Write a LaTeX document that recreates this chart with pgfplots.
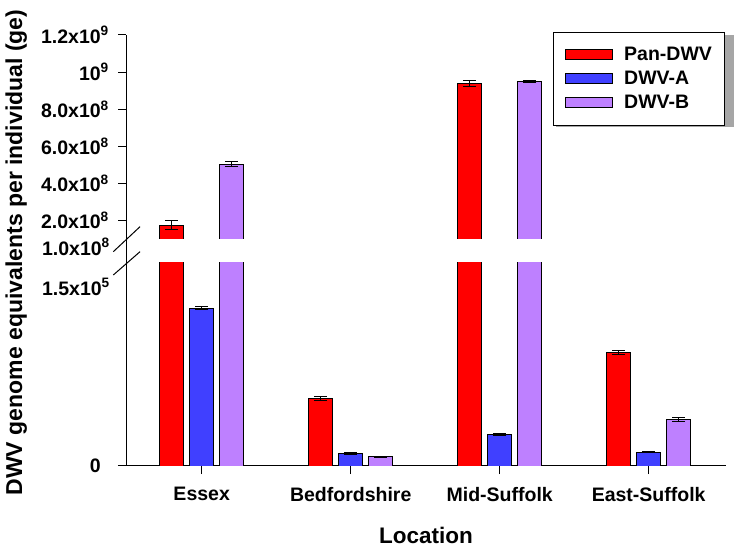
\documentclass[border=0pt]{standalone}
\usepackage{pgfplots}
\pgfplotsset{compat=1.18}
\usepackage{fontspec}
\setmainfont{Liberation Sans}
\definecolor{cRed}{RGB}{255,0,0}
\definecolor{cBlue}{RGB}{64,64,255}
\definecolor{cPurple}{RGB}{190,128,255}
\newcommand{\tf}{\fontsize{19.5}{22}\selectfont\bfseries}
\begin{document}
\begin{tikzpicture}
\path[use as bounding box] (0pt,0pt) rectangle (735pt,548pt);
\pgfplotsset{
  common/.style={scale only axis, width=600pt, xmin=-0.508, xmax=3.519,
    ybar, bar width=24pt,
    axis line style={line width=1pt},
    tick style={line width=1pt, black}, tick align=outside, major tick length=8pt,
    ticklabel style={font=\tf},
    yticklabel style={inner sep=0pt, xshift=-9pt},
    scaled y ticks=false,
    every axis plot/.append style={draw=black, line width=0.6pt},
    error bars/error bar style={line width=1pt, black},
    error bars/error mark options={rotate=90, mark size=6.5pt, line width=1pt, black},
  }
}
% lower segment
\begin{axis}[common, at={(126pt,82pt)}, anchor=south west, height=203pt,
  ymin=0, ymax=1.69e5,
  axis x line*=bottom, axis y line*=left,
  ytick={0}, yticklabels={0},
  yticklabel style={xshift=-8pt},
  xtick={0,1,2,3}, xticklabels={Essex,Bedfordshire,Mid-Suffolk,East-Suffolk},
  xticklabel style={yshift=-10pt},
  xlabel={Location},
  xlabel style={font=\fontsize{22.5}{25}\selectfont\bfseries, at={(axis description cs:0.5,0)}, anchor=base, yshift=-77pt},
  ylabel={DWV genome equivalents per individual (ge)},
  ylabel style={font=\fontsize{23}{25}\selectfont\bfseries, at={(axis description cs:-0.1733,1.0517)}, anchor=base},
]
\addplot[fill=cRed, bar shift=-30pt, error bars/.cd, y dir=both, y explicit]
  coordinates {(1,5.61e4) +- (0,1.4e3) (3,9.47e4) +- (0,1.6e3)};
\addplot[fill=cRed, bar shift=-30pt] coordinates {(0,2e5) (2,2e5)};
\addplot[fill=cBlue, bar shift=0pt, error bars/.cd, y dir=both, y explicit]
  coordinates {(0,1.315e5) +- (0,1.2e3) (1,1.05e4) +- (0,800) (2,2.63e4) +- (0,800) (3,1.16e4) +- (0,500)};
\addplot[fill=cPurple, bar shift=30pt, error bars/.cd, y dir=both, y explicit]
  coordinates {(1,7.7e3) +- (0,500) (3,3.9e4) +- (0,1.7e3)};
\addplot[fill=cPurple, bar shift=30pt] coordinates {(0,2e5) (2,2e5)};
\end{axis}
% legend shadow
\fill[gray!70] (556pt,421pt) rectangle (734pt,513pt);
% upper segment
\begin{axis}[common, at={(126pt,309pt)}, anchor=south west, height=204pt,
  ymin=1e8, ymax=1.2e9,
  axis x line=none, axis y line*=left,
  ytick={2e8,4e8,6e8,8e8,1e9,1.2e9},
  yticklabels={2.0x10\textsuperscript{8},4.0x10\textsuperscript{8},6.0x10\textsuperscript{8},8.0x10\textsuperscript{8},10\textsuperscript{9},1.2x10\textsuperscript{9}},
  legend style={at={(axis description cs:0.7117,1.0147)}, anchor=north west,
    draw=black, line width=0.8pt, fill=white,
    inner xsep=12pt, inner ysep=10.5pt, column sep=11pt, row sep=0pt,
    font=\tf, nodes={minimum height=24pt, inner sep=0pt, anchor=west}},
  legend image code/.code={\draw[#1, line width=0.8pt] (0pt,-5pt) rectangle (47pt,5pt);},
]
\addlegendimage{fill=cRed, draw=black}
\addlegendentry{Pan-DWV\hspace{16pt}}
\addlegendimage{fill=cBlue, draw=black}
\addlegendentry{DWV-A}
\addlegendimage{fill=cPurple, draw=black}
\addlegendentry{DWV-B}
\addplot[forget plot, fill=cRed, bar shift=-30pt, error bars/.cd, y dir=both, y explicit]
  coordinates {(0,1.75e8) +- (0,2.5e7) (2,9.39e8) +- (0,1.8e7)};
\addplot[forget plot, fill=cPurple, bar shift=30pt, error bars/.cd, y dir=both, y explicit]
  coordinates {(0,5.04e8) +- (0,1.3e7) (2,9.5e8) +- (0,4e6)};
\end{axis}
% axis break
\draw[line width=1pt] (126pt,309pt) -- (126pt,285pt);
\draw[line width=1pt] (113.3pt,296.3pt) -- (140pt,321.3pt);
\draw[line width=1pt] (113.3pt,273pt) -- (140pt,296.3pt);
\node[font=\tf, anchor=east, inner sep=0pt] at (110pt,301.3pt) {1.0x10\textsuperscript{8}};
\node[font=\tf, anchor=east, inner sep=0pt] at (110pt,261.3pt) {1.5x10\textsuperscript{5}};
\end{tikzpicture}
\end{document}
